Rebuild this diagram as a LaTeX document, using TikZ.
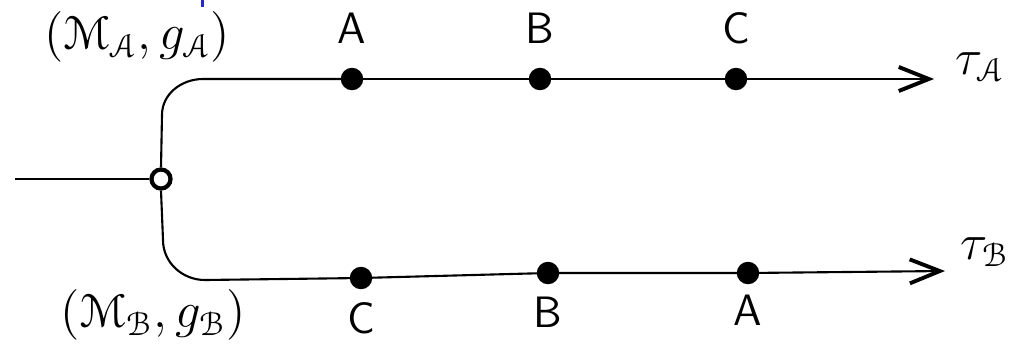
\documentclass[tikz,border=0pt]{standalone}
\usepackage{amsmath,amssymb}
\usepackage[mathcal]{euscript}
\usepackage{xcolor}
\usepackage{tikz}
\usetikzlibrary{arrows.meta, calc, positioning}
\definecolor{slideblue}{RGB}{40,40,200}
\tikzset{
  event/.style={
    circle, fill=black, draw=black, minimum size=2.1mm, inner sep=0pt
  },
  branch/.style={
    circle, draw=black, very thick, fill=white, minimum size=1.9mm, inner sep=0pt
  },
  world/.style={draw, line width=0.6pt},
  time line/.style={world, -{Straight Barb[length=3mm, width=2.4mm, line width=1.1pt]}},
  evlabel/.style={font=\fontsize{12.5}{14}\sffamily},
  mflabel/.style={font=\fontsize{13.5}{16}\selectfont},
}

\begin{document}
\begin{tikzpicture}[x=0.01cm, y=-0.01cm]
  \useasboundingbox (0,0) rectangle (1012,345);
  % cut-off mark at the top of the slide
  \fill[slideblue] (201,0) rectangle (204,7);

  \node[branch] (O) at (161,179) {};
  \coordinate (in) at (15,179);
  \coordinate (tA) at (934,79);
  \coordinate (tB) at (945,271);

  % upper history
  \node[event] (A1) at (352,79) {};
  \node[event] (B1) at (540,79) {};
  \node[event] (C1) at (736,79) {};
  % lower history
  \node[event] (C2) at (361,278) {};
  \node[event] (B2) at (548,273) {};
  \node[event] (A2) at (748,273) {};

  \draw[world] (in) -- (O);
  \draw[world] (O.north) -- (162,115) to[out=90, in=180] (203,79) -- (A1);
  \draw[world] (O.south) -- (163,240) to[out=-90, in=180] (205,280) -- (C2);
  \draw[time line] (A1) -- (B1) -- (C1) -- (tA);
  \draw[time line] (C2) -- (B2) -- (A2) -- (tB);

  \node[evlabel, above=3.5mm of A1.center, anchor=base] {A};
  \node[evlabel, above=3.5mm of B1.center, anchor=base] {B};
  \node[evlabel, above=3.5mm of C1.center, anchor=base] {C};
  \node[evlabel, below=5.5mm of C2.center, anchor=base] {C};
  \node[evlabel, below=5.4mm of B2.center, anchor=base] {B};
  \node[evlabel, below=5.2mm of A2.center, anchor=base] {A};

  \node[mflabel] (MA) at (137,37) {$(\mathcal{M}_{\mathcal{A}},g_{\mathcal{A}})$};
  \node[mflabel] (MB) at (153,315) {$(\mathcal{M}_{\mathcal{B}},g_{\mathcal{B}})$};
  \node[mflabel, anchor=center] (TA) at (980,67) {$\tau_{\mathcal{A}}$};
  \node[mflabel, anchor=center] (TB) at (985,252) {$\tau_{\mathcal{B}}$};
\end{tikzpicture}
\end{document}
